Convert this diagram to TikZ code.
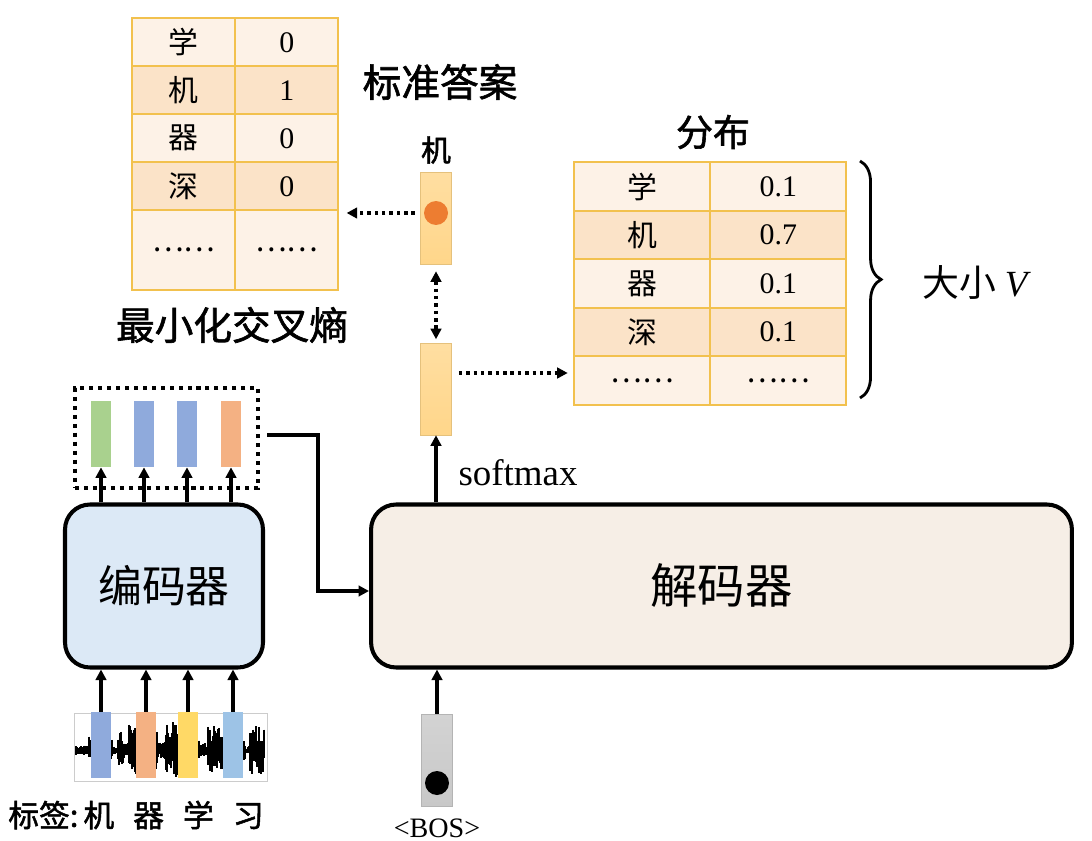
\documentclass[tikz,border=0pt]{standalone}
\usepackage{fontspec}
\setmainfont{Liberation Serif}
\newfontfamily\cjk{Noto Sans CJK SC}
\newfontfamily\cjkb[FakeBold=1.6]{Noto Sans CJK SC}
\usetikzlibrary{arrows.meta}
\usetikzlibrary{calc}
\usetikzlibrary{fit}
\usetikzlibrary{matrix}
\usetikzlibrary{decorations.pathreplacing}

\newcommand\fsz[1]{\fontsize{#1}{#1}\selectfont}

\definecolor{cellline}{HTML}{F2C14E}
\definecolor{celllight}{HTML}{FDF2E7}
\definecolor{celldark}{HTML}{FBE3C8}
\definecolor{encfill}{HTML}{DCE9F6}
\definecolor{decfill}{HTML}{F6EEE6}
\definecolor{vgreen}{HTML}{A9D18E}
\definecolor{vblue}{HTML}{8FAADC}
\definecolor{vsalmon}{HTML}{F4B183}
\definecolor{vyellow}{HTML}{FFD966}
\definecolor{vlblue}{HTML}{9DC3E6}
\definecolor{vorange}{HTML}{FFD68A}
\definecolor{dotorange}{HTML}{ED7D31}
\definecolor{bosgrey}{HTML}{C8C8C8}

\tikzset{
  cell/.style={draw=cellline, line width=1.1pt, fill=celllight, inner sep=0pt, outer sep=0pt, anchor=center},
  block/.style={draw, line width=2.3pt, rounded corners=0.5cm, minimum height=3.26cm, inner sep=0pt},
  vec/.style={fill=#1, inner sep=0pt, minimum width=0.4cm, minimum height=1.32cm},
  bigvec/.style={top color=#1!80, bottom color=#1, draw=#1!90!black, line width=0.3pt,
    inner sep=0pt, minimum width=0.62cm, minimum height=1.84cm},
  arr/.style={-{Triangle[length=6pt,width=6pt]}, line width=2.1pt},
  dotarr/.style={arr, line width=2pt, dash pattern=on 2pt off 2.2pt},
  title/.style={font=\cjkb\fsz{22}}
}

\begin{document}
\begin{tikzpicture}[x=0.02cm, y=-0.02cm]
  \useasboundingbox (0,0) rectangle (1092,841);

  % tables
  \matrix(gt)[matrix of nodes, anchor=north west, inner sep=0pt, row sep=-1.1pt, column sep=-1.1pt,
    nodes={cell, minimum width=2.06cm, minimum height=0.96cm},
    column 1/.style={nodes={font=\cjk\fsz{17}}},
    column 2/.style={nodes={font=\fsz{17}}},
    row 2/.style={nodes={fill=celldark}}, row 4/.style={nodes={fill=celldark}},
    row 5/.style={nodes={minimum height=1.6cm}}] at (131,17) {
    学 & 0 \\
    机 & 1 \\
    器 & 0 \\
    深 & 0 \\
    …… & {\cjk ……} \\
  };

  \matrix(dist)[matrix of nodes, anchor=north west, inner sep=0pt, row sep=-1.1pt, column sep=-1.1pt,
    nodes={cell, minimum width=2.72cm, minimum height=0.97cm},
    column 1/.style={nodes={font=\cjk\fsz{17}}},
    column 2/.style={nodes={font=\fsz{17}}},
    row 2/.style={nodes={fill=celldark}}, row 4/.style={nodes={fill=celldark}}] at (573,161) {
    学 & 0.1 \\
    机 & 0.7 \\
    器 & 0.1 \\
    深 & 0.1 \\
    …… & {\cjk ……} \\
  };

  \node[title] (gtlabel) at (440,82) {标准答案};
  \node[title, font=\cjkb\fsz{21}] (distlabel) at (713,132) {分布};
  \node[title] (losslabel) at (232,325) {最小化交叉熵};
  \node[font=\cjk\fsz{21}] (vlabel) at (975,283) {大小 {\rmfamily\itshape V}};
  \draw[decorate, decoration={brace, amplitude=12pt}, line width=1.6pt] (860,161) -- (860,398);

  % output vectors
  \node[bigvec=vorange] (vecTop) at (436,218) {};
  \node[circle, fill=dotorange, inner sep=0pt, minimum size=0.48cm] (hit) at (436,213) {};
  \node[font=\cjkb\fsz{17}] (toplabel) at (436,150) {机};
  \node[bigvec=vorange] (vecOut) at (436,389) {};
  \node[font=\fsz{21}] (smlabel) at (518,473) {softmax};

  \path[dotarr, shorten <=3pt, shorten >=4pt] (vecTop.west |- hit) edge (gt.east |- hit);
  \path[dotarr, {Triangle[length=6pt,width=6pt]}-{Triangle[length=6pt,width=6pt]}, shorten <=4pt, shorten >=2pt]
    (vecTop.south) edge (vecOut.north);
  \path[dotarr, shorten <=4pt, shorten >=3pt] (vecOut.east |- 0,373) edge (dist.west |- 0,373);

  % encoder
  \node[block, fill=encfill, minimum width=3.96cm, font=\cjk\fsz{25}] (enc) at (164,586) {编码器};
  \node[block, fill=decfill, minimum width=14.02cm, font=\cjk\fsz{27}] (dec) at (721.5,586) {解码器};

  \node[vec=vgreen] (h1) at (101,434) {};
  \node[vec=vblue] (h2) at (144,434) {};
  \node[vec=vblue] (h3) at (187,434) {};
  \node[vec=vsalmon] (h4) at (231,434) {};
  \node[fit={(75,388) (258,488)}, inner sep=0pt, draw, line width=2.3pt,
    dash pattern=on 2.3pt off 2.8pt] (hbox) {};

  \foreach \i in {1,...,4}
    \path[arr] (enc.north -| h\i) edge (h\i.south);

  \draw[arr, line width=1.8pt, shorten <=4pt] (hbox.east |- 0,435) -| (318,591) -- (dec.west |- 0,591);

  % waveform
  \pgfmathsetseed{11}
  \foreach \a/\b/\amp in {76/88/5, 89/112/14, 113/117/4, 118/123/20, 124/128/9, 129/136/26,
      137/157/22, 158/165/9, 166/178/28, 179/199/16, 200/207/7, 208/222/24, 223/245/12,
      246/249/4, 250/264/24}
    \foreach \x in {\a,...,\b} {
      \pgfmathsetmacro\up{\amp*(0.3+0.7*rnd)}
      \pgfmathsetmacro\dn{\amp*(0.3+0.7*rnd)}
      \draw[line width=0.6pt] (\x,750-\up) -- (\x,750+\dn);
    }
  \draw[black!20, line width=0.4pt] (74,713) rectangle (267,781);

  \node[vec=vblue] (f1) at (101,745) {};
  \node[vec=vsalmon] (f2) at (146,745) {};
  \node[vec=vyellow] (f3) at (188,745) {};
  \node[vec=vlblue] (f4) at (233,745) {};

  \foreach \i in {1,...,4}
    \path[arr] (f\i.north) edge (enc.south -| f\i);

  \node[font=\cjkb\fsz{17.5}, anchor=west, inner sep=0pt] (labels) at (8,815)
    {标签:\,机\hspace{0.62em}器\hspace{0.62em}学\hspace{0.62em}习};

  % decoder input
  \node[bigvec=bosgrey] (bos) at (437,760) {};
  \node[circle, fill=black, inner sep=0pt, minimum size=0.48cm] (bosdot) at (437,783) {};
  \node[font=\fsz{16}] (boslabel) at (437,828) {<BOS>};

  \path[arr] (bos.north) edge (dec.south -| bos);
  \path[arr] (dec.north -| vecOut) edge (vecOut.south);
\end{tikzpicture}
\end{document}
